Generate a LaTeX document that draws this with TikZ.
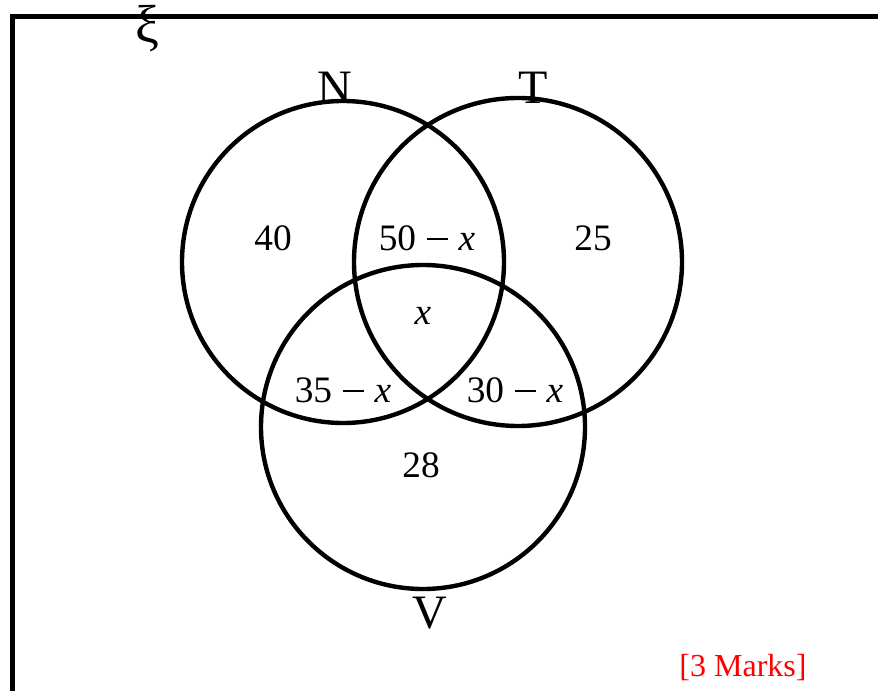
\documentclass[tikz,border=0pt]{standalone}
\usepackage{fontspec}
\setmainfont{Liberation Serif}
\newcommand{\mminus}{\hspace{0.28em}\raisebox{0.27em}{\rule{0.58em}{0.055em}}\hspace{0.28em}}
\begin{document}
\begin{tikzpicture}[x=0.75pt,y=0.75pt,yscale=-1,xscale=1,
        region/.style={font=\fontsize{28}{30}\selectfont,inner sep=0pt},
        setname/.style={font=\fontsize{36}{40}\selectfont,inner sep=0pt}]
        \useasboundingbox (0,0) rectangle (878,691);
        % universal set frame
        \draw [line width=3.4pt] (12.5,691) -- (12.5,16.5) -- (878,16.5) ;
        \node [font=\fontsize{40}{42}\selectfont,inner sep=0pt] (xi) at (147,29) {ξ};
        % the three sets
        \draw [line width=3.3pt] (343,262) circle (161) ;
        \draw [line width=3.3pt] (518,262) circle (164) ;
        \draw [line width=3.3pt] (423,427) circle (162) ;
        \node [setname] (setN) at (335,88) {N};
        \node [setname] (setT) at (533,88) {T};
        \node [setname] (setV) at (430,613) {V};
        % regions
        \node [region] (onlyN) at (273,238) {40};
        \node [region] (NT) at (427,238) {50\mminus\textit{x}};
        \node [region] (onlyT) at (593,238) {25};
        \node [region] (NTV) at (423,316) {\textit{x}};
        \node [region] (NV) at (343,390) {35\mminus\textit{x}};
        \node [region] (TV) at (515,390) {30\mminus\textit{x}};
        \node [region] (onlyV) at (421,465) {28};
        \node [font=\fontsize{24}{26}\selectfont,text=red,inner sep=0pt] (marks) at (743,668) {[3 Marks]};
\end{tikzpicture}
\end{document}
